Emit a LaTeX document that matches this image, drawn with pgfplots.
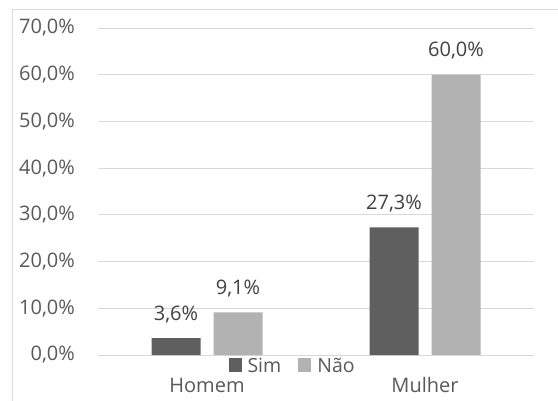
\documentclass[border=0pt]{standalone}
\usepackage{pgfplots}
\pgfplotsset{compat=1.18}
\usepackage{fontspec}
\setmainfont{Open Sans}
\definecolor{simc}{RGB}{95,95,95}
\definecolor{naoc}{RGB}{178,178,178}
\definecolor{gridc}{RGB}{217,217,217}
\definecolor{txtc}{RGB}{89,89,89}
\definecolor{lblc}{RGB}{64,64,64}
\begin{document}
\begin{tikzpicture}
\useasboundingbox (0,0) rectangle (558bp,401bp);
\draw[gridc, line width=1bp] (12bp,-20bp) rectangle (580bp,391bp);
\begin{axis}[
  at={(98bp,46bp)}, anchor=south west,
  scale only axis, width=436bp, height=327bp,
  xmin=-0.5, xmax=1.5, ymin=0, ymax=70,
  enlargelimits=false, clip=false,
  ybar=13bp, bar width=49bp,
  xtick={0,1}, xticklabels={Homem,Mulher},
  ytick={0,10,...,70},
  ymajorgrids, grid style={gridc, line width=1bp},
  axis line style={draw=none},
  tick style={draw=none},
  major tick length=0pt,
  font=\fontsize{20bp}{24bp}\selectfont,
  /pgf/number format/assume math mode=true,
  yticklabel={\pgfmathprintnumber[fixed,fixed zerofill,precision=1,use comma]{\tick}\%},
  yticklabel style={anchor=east, inner sep=0pt, xshift=-23bp, text=txtc},
  xticklabel style={anchor=base, inner sep=0pt, yshift=-37bp, text=txtc},
  nodes near coords={\pgfmathprintnumber[fixed,fixed zerofill,precision=1,use comma]{\pgfplotspointmeta}\%},
  every node near coord/.append style={anchor=base, yshift=18bp, text=lblc, font=\fontsize{20bp}{24bp}\selectfont},
  legend style={at={(0.444,0)}, anchor=center, yshift=-10bp, draw=none, fill=none,
    legend columns=2, inner sep=0pt, text=txtc,
    font=\fontsize{19.5bp}{22bp}\selectfont,
    /tikz/every even column/.append style={column sep=17bp},
    nodes={inner sep=0pt, text depth=0pt}},
  legend image code/.code={\fill[#1,draw=none] (0bp,-6.5bp) rectangle (13bp,6.5bp);},
  legend cell align=left,
]
\addplot[fill=simc, draw=none] coordinates {(0,3.6) (1,27.3)};
\addlegendentry{\hspace{6bp}Sim}
\addplot[fill=naoc, draw=none] coordinates {(0,9.1) (1,60.0)};
\addlegendentry{\hspace{6bp}Não}
\end{axis}
\end{tikzpicture}
\end{document}
